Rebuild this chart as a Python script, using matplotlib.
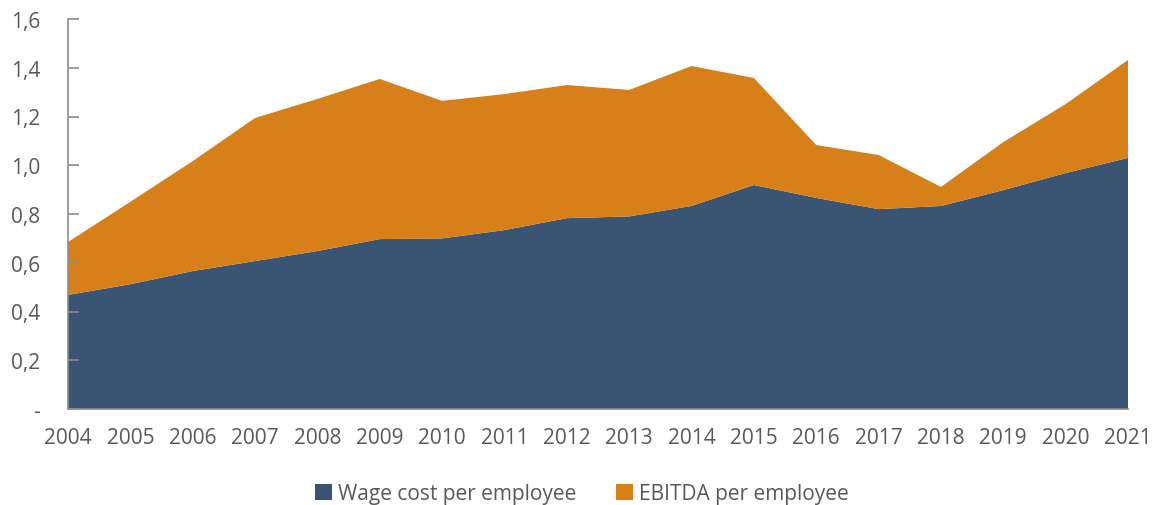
import matplotlib.pyplot as plt
from matplotlib.ticker import FixedLocator, FuncFormatter

# ---------------------- Data ----------------------
years = list(range(2004, 2022))
wage_cost = [0.468, 0.512, 0.566, 0.607, 0.648, 0.697, 0.700, 0.734, 0.783, 0.790,
             0.833, 0.919, 0.866, 0.820, 0.833, 0.898, 0.968, 1.030]
total = [0.685, 0.850, 1.017, 1.194, 1.272, 1.354, 1.264, 1.292, 1.329, 1.309,
         1.407, 1.358, 1.083, 1.042, 0.911, 1.095, 1.251, 1.432]
ebitda = [t - w for t, w in zip(total, wage_cost)]
labels = ["Wage cost per employee", "EBITDA per employee"]
colors = ["#3A5573", "#D77F18"]

# ---------------------- Plot ----------------------
plt.rcParams["font.family"] = ["Open Sans", "DejaVu Sans"]
text_color = "#595959"

fig = plt.figure(figsize=(11.57, 5.06), dpi=100)
ax = fig.add_axes([68 / 1157, 96 / 506, 1060 / 1157, 390 / 506])

ax.stackplot(years, wage_cost, ebitda, labels=labels, colors=colors, linewidth=0)

ax.set_xlim(2004, 2021)
ax.set_ylim(0, 1.6)
ax.yaxis.set_major_locator(FixedLocator([0, 0.2, 0.4, 0.6, 0.8, 1.0, 1.2, 1.4, 1.6]))
ax.yaxis.set_major_formatter(FuncFormatter(
    lambda v, p: "-" if abs(v) < 1e-9 else f"{v:.1f}".replace(".", ",")))
ax.set_xticks(years)

for side in ["top", "right"]:
    ax.spines[side].set_visible(False)
for side in ["left", "bottom"]:
    ax.spines[side].set_color("#8C8C8C")
    ax.spines[side].set_linewidth(1.2)

ax.tick_params(axis="y", direction="in", length=8, width=1.2, color="#8C8C8C",
               labelsize=15, labelcolor=text_color, pad=20)
ax.tick_params(axis="x", length=0, labelsize=15, labelcolor=text_color, pad=13)

leg = fig.legend(loc="lower center", bbox_to_anchor=(0.503, -0.035), ncol=2, frameon=False,
                 fontsize=15, labelcolor=text_color, handlelength=0.8, handleheight=0.8,
                 columnspacing=1.9, handletextpad=0.3)

fig.savefig("out.png", dpi=100)
